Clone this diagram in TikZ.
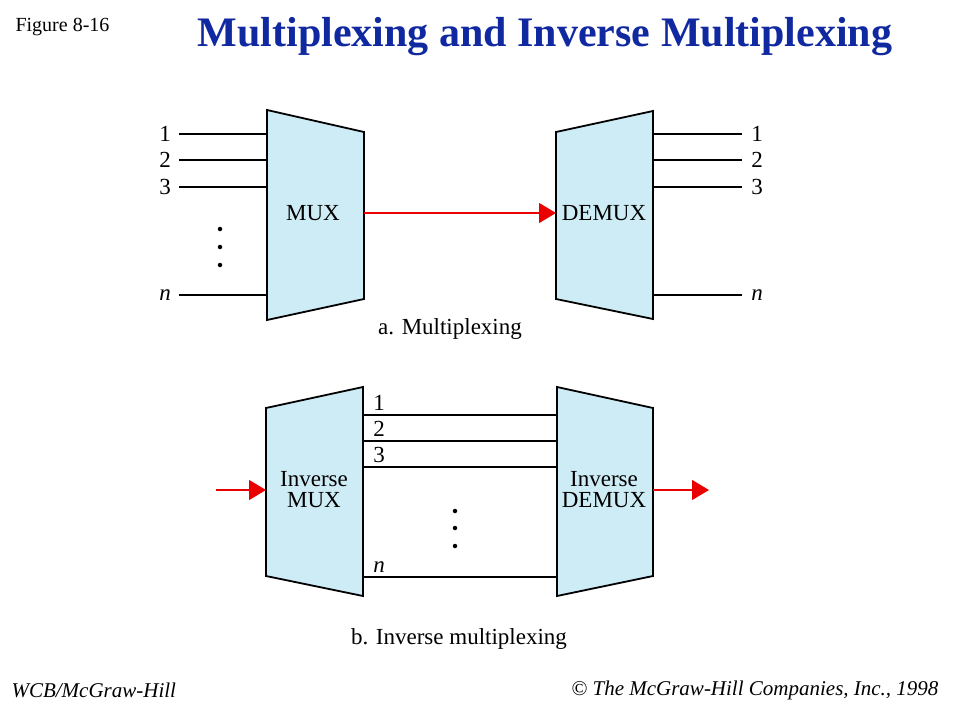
\documentclass[tikz,border=0pt]{standalone}
\usepackage{fontspec}
\setmainfont{Liberation Serif}
\usetikzlibrary{arrows.meta}
\definecolor{muxfill}{RGB}{205,236,245}
\definecolor{titleblue}{RGB}{16,40,160}
\definecolor{sigred}{RGB}{235,0,0}

\begin{document}
\begin{tikzpicture}[x=1pt,y=-1pt,
    box/.style={draw,line width=1.8pt,fill=muxfill,line join=miter},
    wire/.style={line width=1.4pt},
    sig/.style={line width=1.4pt,sigred,-{Triangle[length=17pt,width=20pt]}},
    lbl/.style={font=\fontsize{23}{25}\selectfont,inner sep=1pt},
    boxlbl/.style={font=\fontsize{23}{21}\selectfont,align=center,inner sep=0pt},
    dot/.style={circle,fill=black,inner sep=0pt,minimum size=4.5pt}]
  \useasboundingbox (0,0) rectangle (960,720);
  % heading
  \node[anchor=west,font=\fontsize{20}{22}\selectfont] (fignum) at (12,27) {Figure 8-16};
  \node[font=\fontsize{42}{46}\selectfont\bfseries,text=titleblue] (title) at (545,37) {Multiplexing and Inverse Multiplexing};

  % a. Multiplexing
  \draw[box] (267,110) -- (364,132) -- (364,299) -- (267,320) -- cycle;
  \draw[box] (556,132) -- (653,111) -- (653,319) -- (556,299) -- cycle;
  \node[boxlbl] (mux) at (313,213) {MUX};
  \node[boxlbl] (demux) at (604,213) {DEMUX};
  \foreach \y/\t [count=\i] in {134/1,160/2,187/3,295/\textit{n}} {
    \node[lbl] (in\i) at (165,\y) {\t};
    \coordinate (inw\i) at (179,\y);
    \coordinate (muxin\i) at (267,\y);
    \draw[wire] (inw\i) -- (muxin\i);
    \node[lbl] (out\i) at (757,\y) {\t};
    \coordinate (outw\i) at (742,\y);
    \coordinate (demuxout\i) at (653,\y);
    \draw[wire] (demuxout\i) -- (outw\i);
  }
  \foreach \y [count=\i] in {229,247,265}
    \node[dot] (adot\i) at (220,\y) {};
  \coordinate (muxr) at (364,213);
  \coordinate (demuxl) at (556,213);
  \draw[sig] (muxr) -- (demuxl);
  \node[lbl] (capa) at (450,329) {a. Multiplexing};

  % b. Inverse multiplexing
  \draw[box] (266,408) -- (363,387) -- (363,596) -- (266,576) -- cycle;
  \draw[box] (557,387) -- (653,408) -- (653,576) -- (557,596) -- cycle;
  \node[boxlbl] (imux) at (314,490) {Inverse\\MUX};
  \node[boxlbl] (idemux) at (604,490) {Inverse\\DEMUX};
  \foreach \y/\t [count=\i] in {415/1,441/2,467/3,577/\textit{n}} {
    \coordinate (imuxout\i) at (363,\y);
    \coordinate (idemuxin\i) at (557,\y);
    \draw[wire] (imuxout\i) -- (idemuxin\i);
    \node[lbl,anchor=base] (link\i) at (379,\y-5) {\t};
  }
  \foreach \y [count=\i] in {511,528,546}
    \node[dot] (bdot\i) at (455,\y) {};
  \coordinate (src) at (216,490);
  \coordinate (imuxl) at (266,490);
  \coordinate (idemuxr) at (653,490);
  \coordinate (dst) at (709,490);
  \draw[sig] (src) -- (imuxl);
  \draw[sig] (idemuxr) -- (dst);
  \node[lbl] (capb) at (459,639) {b. Inverse multiplexing};

  % footer
  \node[anchor=west,font=\fontsize{21}{22}\selectfont\itshape] (pub) at (8,690) {WCB/McGraw-Hill};
  \node[anchor=east,font=\fontsize{21}{22}\selectfont\itshape] (copy) at (942,690) {© The McGraw-Hill Companies, Inc., 1998};
\end{tikzpicture}
\end{document}
